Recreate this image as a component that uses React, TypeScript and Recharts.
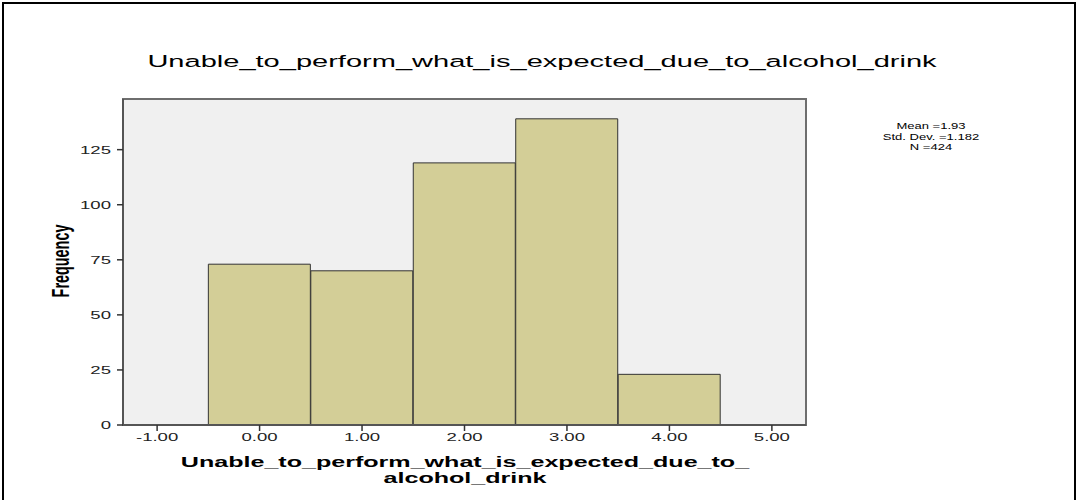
import { ComposedChart, Bar, XAxis, YAxis, CartesianGrid, ReferenceArea } from "recharts";

const binCenters = [0, 1, 2, 3, 4];
const frequencies = [73, 70, 119, 139, 23];
const xTicks = [-1, 0, 1, 2, 3, 4, 5];
const yTicks = [0, 25, 50, 75, 100, 125];
const xDomain = [-1.333, 5.333];
const yDomain = [0, 148];
const chartTitle = "Unable_to_perform_what_is_expected_due_to_alcohol_drink";
const xLabelLines = ["Unable_to_perform_what_is_expected_due_to_", "alcohol_drink"];
const yLabel = "Frequency";
const statLines = ["Mean =1.93", "Std. Dev. =1.182", "N =424"];

const data = binCenters.map((x, i) => ({ x, freq: frequencies[i] }));

const FONT = "'Liberation Sans', Arial, sans-serif";

function YTick(props: any) {
  const { x, y, payload } = props;
  return (
    <g transform={`translate(${x - 4},${y + 4})`}>
      <text textAnchor="end" fontSize={10.8} fontFamily={FONT} fill="#222" transform="scale(1.72,1)">
        {payload.value}
      </text>
    </g>
  );
}

function XTick(props: any) {
  const { x, y, payload } = props;
  return (
    <g transform={`translate(${x},${y + 8})`}>
      <text textAnchor="middle" fontSize={10.8} fontFamily={FONT} fill="#222" transform="scale(1.72,1)">
        {Number(payload.value).toFixed(2)}
      </text>
    </g>
  );
}

export default function App() {
  return (
    <div style={{ position: "absolute", left: 0, top: 0, width: 1076, height: 500, background: "#fff" }}>
      <div
        style={{
          position: "absolute",
          left: 2,
          top: 2,
          width: 1074,
          height: 498,
          boxSizing: "border-box",
          borderLeft: "2px solid #000",
          borderTop: "2px solid #000",
          borderRight: "2px solid #000",
        }}
      />
      <ComposedChart
        width={1076}
        height={500}
        data={data}
        margin={{ top: 99, right: 270, bottom: 0, left: 0 }}
        barCategoryGap={0}
        barGap={0}
      >
        <CartesianGrid fill="#f0f0f0" horizontal={false} vertical={false} />
        <XAxis
          dataKey="x"
          type="number"
          domain={xDomain}
          ticks={xTicks}
          interval={0}
          height={75}
          tickSize={6}
          tickLine={{ stroke: "#333", strokeWidth: 1.5 }}
          axisLine={{ stroke: "#555", strokeWidth: 2 }}
          tick={<XTick />}
          allowDataOverflow
        />
        <YAxis
          type="number"
          domain={yDomain}
          ticks={yTicks}
          interval={0}
          width={123}
          tickSize={6}
          tickLine={{ stroke: "#333", strokeWidth: 1.5 }}
          axisLine={{ stroke: "#555", strokeWidth: 2 }}
          tick={<YTick />}
          allowDataOverflow
        />
        <ReferenceArea
          x1={xDomain[0]}
          x2={xDomain[1]}
          y1={yDomain[0]}
          y2={yDomain[1]}
          fill="none"
          fillOpacity={0}
          stroke="#6e6e6e"
          strokeWidth={2}
          ifOverflow="visible"
        />
        <Bar dataKey="freq" fill="#d3ce97" stroke="#333" strokeWidth={1} isAnimationActive={false} />
      </ComposedChart>
      <svg
        width={1076}
        height={500}
        style={{ position: "absolute", left: 0, top: 0, pointerEvents: "none" }}
      >
        <text
          transform="translate(542,67) scale(1.76,1)"
          textAnchor="middle"
          fontSize={16.5}
          fontFamily={FONT}
          fill="#000"
        >
          {chartTitle}
        </text>
        <text
          transform="translate(465,467) scale(1.73,1)"
          textAnchor="middle"
          fontSize={14.5}
          fontWeight="bold"
          fontFamily={FONT}
          fill="#000"
        >
          {xLabelLines[0]}
        </text>
        <text
          transform="translate(465,483) scale(1.73,1)"
          textAnchor="middle"
          fontSize={14.5}
          fontWeight="bold"
          fontFamily={FONT}
          fill="#000"
        >
          {xLabelLines[1]}
        </text>
        <g transform="translate(60,261) scale(1.7,1) rotate(-90)">
          <text textAnchor="middle" dy={5} fontSize={14.4} fontWeight="bold" fontFamily={FONT} fill="#000">
            {yLabel}
          </text>
        </g>
        {statLines.map((line, i) => (
          <text
            key={line}
            transform={`translate(931,${129 + i * 10.5}) scale(1.33,1)`}
            textAnchor="middle"
            fontSize={9.8}
            fontFamily={FONT}
            fill="#000"
          >
            {line}
          </text>
        ))}
      </svg>
    </div>
  );
}
